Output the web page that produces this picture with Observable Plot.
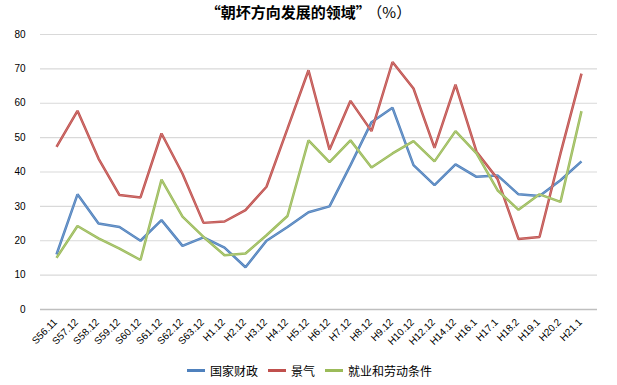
<!DOCTYPE html>
<html>
<head>
<meta charset="utf-8">
<script src="https://cdn.jsdelivr.net/npm/d3@7"></script>
<script src="https://cdn.jsdelivr.net/npm/@observablehq/plot@0.6"></script>
<style>
  html, body { margin: 0; padding: 0; background: #fff; }
  body { width: 617px; height: 385px; overflow: hidden; font-family: "Liberation Sans", Arial, "Noto Sans CJK SC", sans-serif; }
  #title { height: 24px; line-height: 24px; text-align: center; font-size: 15px; color: #000; font-family: "Noto Sans CJK SC", sans-serif; white-space: nowrap; }
  #title .main { font-weight: bold; }
  #title .unit { font-weight: normal; margin-left: 4px; }
  #legend { display: flex; justify-content: center; align-items: center; gap: 10px; font-size: 12px; font-family: "Noto Sans CJK SC", sans-serif; color: #000; margin-top: 3px; padding-left: 2px; }
  .item { display: flex; align-items: center; }
  .sw { width: 18px; height: 3px; margin-right: 5px; }
</style>
</head>
<body>
<div id="title"><span class="main">“朝坏方向发展的领域”</span><span class="unit">（%）</span></div>
<div id="chart"></div>
<div id="legend"></div>
<script>
const categories = ["S56.11","S57.12","S58.12","S59.12","S60.12","S61.12","S62.12","S63.12","H1.12","H2.12","H3.12","H4.12","H5.12","H6.12","H7.12","H8.12","H9.12","H10.12","H12.12","H14.12","H16.1","H17.1","H18.2","H19.1","H20.2","H21.1"];
const seriesNames = ["国家财政", "景气", "就业和劳动条件"];
const fiscal =     [16, 33.5, 25, 24, 20, 26, 18.5, 21, 18, 12.3, 20, 24, 28.3, 30, 42, 54.5, 58.7, 42, 36.2, 42.2, 38.6, 39, 33.5, 33, 37.6, 43.1];
const economy =    [47.3, 57.8, 43.9, 33.3, 32.6, 51.2, 39.5, 25.2, 25.6, 28.9, 35.7, 52.6, 69.6, 46.5, 60.7, 51.9, 72, 64.3, 47, 65.4, 45.9, 38, 20.5, 21.1, 45.4, 68.6];
const employment = [15, 24.3, 20.7, 17.7, 14.4, 37.8, 27, 21.1, 15.8, 16.3, 21.6, 27.2, 49.2, 42.9, 49.2, 41.3, 45.4, 49, 43.1, 51.9, 45.4, 34.7, 29, 33.5, 31.3, 57.7];
const yTicks = [0, 10, 20, 30, 40, 50, 60, 70, 80];
const colors = ["#4F81BD", "#C0504D", "#9BBB59"];

const seriesValues = [fiscal, economy, employment];
const data = [];
seriesValues.forEach((vals, s) => vals.forEach((v, i) => data.push({cat: categories[i], value: v, series: seriesNames[s]})));

const chart = Plot.plot({
  width: 617,
  height: 335,
  marginLeft: 40,
  marginRight: 20,
  marginTop: 10,
  marginBottom: 50,
  style: { fontFamily: "Liberation Sans, Arial, sans-serif", fontSize: "10px", color: "#000", background: "#fff" },
  x: { type: "point", domain: categories, padding: 0.5, label: null },
  y: { domain: [0, 80], label: null },
  color: { domain: seriesNames, range: colors },
  marks: [
    Plot.ruleY(yTicks.filter(d => d > 0), { stroke: "#d9d9d9", strokeWidth: 1.2 }),
    Plot.ruleY([0], { stroke: "#bfbfbf", strokeWidth: 1.5 }),
    Plot.axisY({ ticks: yTicks, tickSize: 0, tickPadding: 15, label: null, fontSize: 10 }),
    Plot.axisX({ tickSize: 0, tickRotate: -45, tickPadding: 11, dx: -1, label: null, fontSize: 10 }),
    Plot.line(data, { x: "cat", y: "value", z: "series", stroke: "series", strokeWidth: 2.5, strokeLinejoin: "miter", strokeLinecap: "butt" }),
    Plot.line(data, { x: "cat", y: "value", z: "series", stroke: "#fff", strokeOpacity: 0.35, strokeWidth: 0.6 })
  ]
});
document.getElementById("chart").appendChild(chart);

const legend = document.getElementById("legend");
seriesNames.forEach((n, i) => {
  const it = document.createElement("div");
  it.className = "item";
  it.innerHTML = `<span class="sw" style="background:${colors[i]}"></span><span>${n}</span>`;
  legend.appendChild(it);
});
</script>
</body>
</html>
